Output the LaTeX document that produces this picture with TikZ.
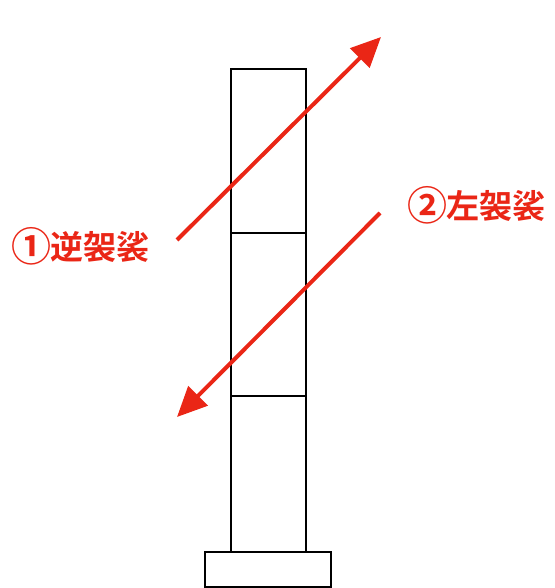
\documentclass[tikz,border=0pt]{standalone}
\usepackage{fontspec}
\newfontfamily\cjk{Noto Sans CJK JP Bold}
\usetikzlibrary{arrows.meta}
\definecolor{cutred}{RGB}{234,38,22}
\newcommand{\bignum}[1]{{\fontsize{40}{40}\selectfont\raisebox{-1.5pt}{#1}}}
\tikzset{
  part/.style={draw=black, line width=2pt, fill=white, inner sep=0pt, minimum width=75pt},
  cut/.style={draw=cutred, line width=4pt, -{Triangle[length=30pt,width=27pt]}},
  lbl/.style={text=cutred, font=\cjk\fontsize{33}{33}\selectfont, inner sep=0pt}
}
\begin{document}
\begin{tikzpicture}[x=1pt,y=-1pt]
\useasboundingbox (0,0) rectangle (554,588);
\node[part, minimum width=126pt, minimum height=35pt] (base) at (268,569.5) {};
\node[part, minimum height=164pt] (top) at (268.5,151) {};
\node[part, minimum height=163pt] (mid) at (268.5,314.5) {};
\node[part, minimum height=156pt] (low) at (268.5,474) {};
\coordinate (a1s) at (177,240);
\coordinate (a1e) at (381,37);
\coordinate (a2s) at (380,213);
\coordinate (a2e) at (177,417);
\draw[cut] (a1s) -- (a1e);
\draw[cut] (a2s) -- (a2e);
\node[lbl] (l1) at (80,246) {\bignum{①}\kern-1pt逆袈裟};
\node[lbl] (l2) at (476,205) {\bignum{②}\kern-1pt左袈裟};
\end{tikzpicture}
\end{document}
